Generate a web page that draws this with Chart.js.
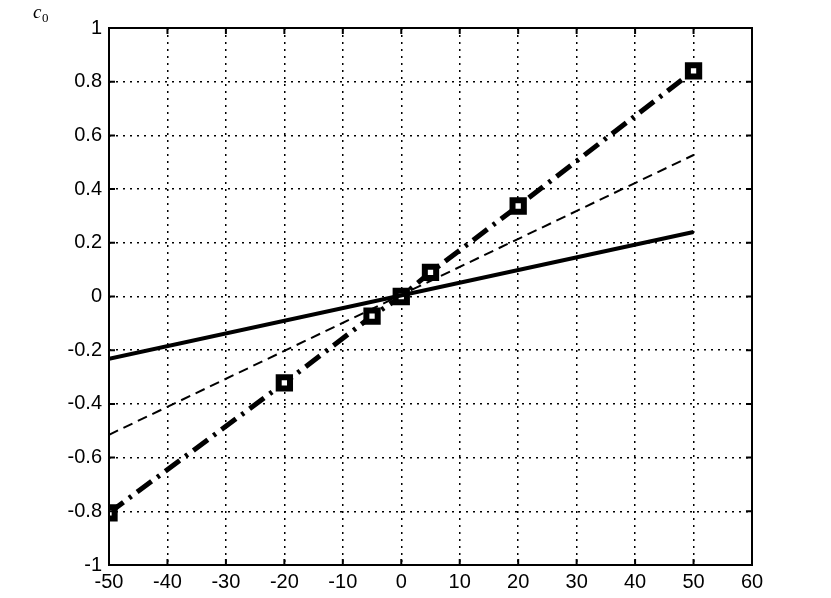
<!DOCTYPE html>
<html>
<head>
<meta charset="utf-8">
<script src="https://cdn.jsdelivr.net/npm/chart.js@4.4.0/dist/chart.umd.min.js"></script>
<style>
  html, body { margin: 0; padding: 0; background: #fff; }
  #wrap { width: 831px; height: 598px; }
</style>
</head>
<body>
<div id="wrap"><canvas id="myChart" width="831" height="598"></canvas></div>
<script>
// values
const solidX = [-50, 50];
const solidY = [-0.232, 0.24];
const dashX = [-50, 50];
const dashY = [-0.515, 0.527];
const markX = [-50, -20, -5, 0, 5, 20, 50];
const markY = [-0.806, -0.322, -0.073, 0, 0.09, 0.337, 0.84];
const xTicks = [-50, -40, -30, -20, -10, 0, 10, 20, 30, 40, 50, 60];
const yTicks = [-1, -0.8, -0.6, -0.4, -0.2, 0, 0.2, 0.4, 0.6, 0.8, 1];

Chart.defaults.font.family = 'Liberation Sans';
Chart.defaults.font.size = 20;
Chart.defaults.color = '#000';

function pts(xs, ys) {
  return xs.map((x, i) => ({ x: x, y: ys[i] }));
}

// box, inward ticks and the c0 label
const matlabBox = {
  id: 'matlabBox',
  afterDraw(chart) {
    const ctx = chart.ctx;
    const a = chart.chartArea;
    const xs = chart.scales.x, ys = chart.scales.y;
    ctx.save();
    ctx.strokeStyle = '#000';
    ctx.lineWidth = 2;
    ctx.setLineDash([]);
    ctx.strokeRect(a.left, a.top, a.right - a.left, a.bottom - a.top);
    ctx.beginPath();
    xTicks.forEach(v => {
      const px = xs.getPixelForValue(v);
      ctx.moveTo(px, a.bottom); ctx.lineTo(px, a.bottom - 6);
      ctx.moveTo(px, a.top); ctx.lineTo(px, a.top + 6);
    });
    yTicks.forEach(v => {
      const py = ys.getPixelForValue(v);
      ctx.moveTo(a.left, py); ctx.lineTo(a.left + 6, py);
      ctx.moveTo(a.right, py); ctx.lineTo(a.right - 6, py);
    });
    ctx.stroke();
    ctx.fillStyle = '#000';
    ctx.font = 'italic 19px "Liberation Serif", serif';
    ctx.textBaseline = 'alphabetic';
    ctx.fillText('c', 33, 18);
    ctx.font = '13px "Liberation Serif", serif';
    ctx.fillText('0', 42, 22);
    ctx.restore();
  }
};

const data = {
  datasets: [
    {
      label: 'solid',
      data: pts(solidX, solidY),
      borderColor: '#000',
      borderWidth: 4,
      pointRadius: 0
    },
    {
      label: 'dashed',
      data: pts(dashX, dashY),
      borderColor: '#000',
      borderWidth: 2,
      borderDash: [10, 6],
      pointRadius: 0
    },
    {
      label: 'dashdot',
      data: pts(markX, markY),
      borderColor: '#000',
      borderWidth: 5,
      borderDash: [18, 7, 3, 7],
      pointStyle: 'rect',
      pointRadius: 8,
      pointBorderWidth: 6,
      pointBackgroundColor: '#fff',
      pointBorderColor: '#000'
    }
  ]
};

const config = {
  type: 'line',
  data,
  options: {
    responsive: false,
    animation: false,
    layout: { padding: { top: 28, right: 79, left: 0, bottom: 0 } },
    plugins: {
      legend: { display: false },
      tooltip: { enabled: false }
    },
    scales: {
      x: {
        type: 'linear',
        min: -50,
        max: 60,
        afterBuildTicks: s => { s.ticks = xTicks.map(v => ({ value: v })); },
        afterFit: s => { s.height = 33; },
        ticks: {
          color: '#000',
          padding: 5,
          maxRotation: 0,
          callback: v => String(v)
        },
        grid: { color: '#000', lineWidth: 1.5, drawTicks: false },
        border: { display: false, dash: [2, 5] }
      },
      y: {
        min: -1,
        max: 1,
        afterBuildTicks: s => { s.ticks = yTicks.map(v => ({ value: v })); },
        afterFit: s => { s.width = 109; },
        ticks: {
          color: '#000',
          padding: 7,
          callback: v => String(Math.round(v * 10) / 10)
        },
        grid: { color: '#000', lineWidth: 1.5, drawTicks: false },
        border: { display: false, dash: [2, 5] }
      }
    }
  },
  plugins: [matlabBox]
};

const myChart = new Chart(document.getElementById('myChart'), config);
</script>
</body>
</html>
